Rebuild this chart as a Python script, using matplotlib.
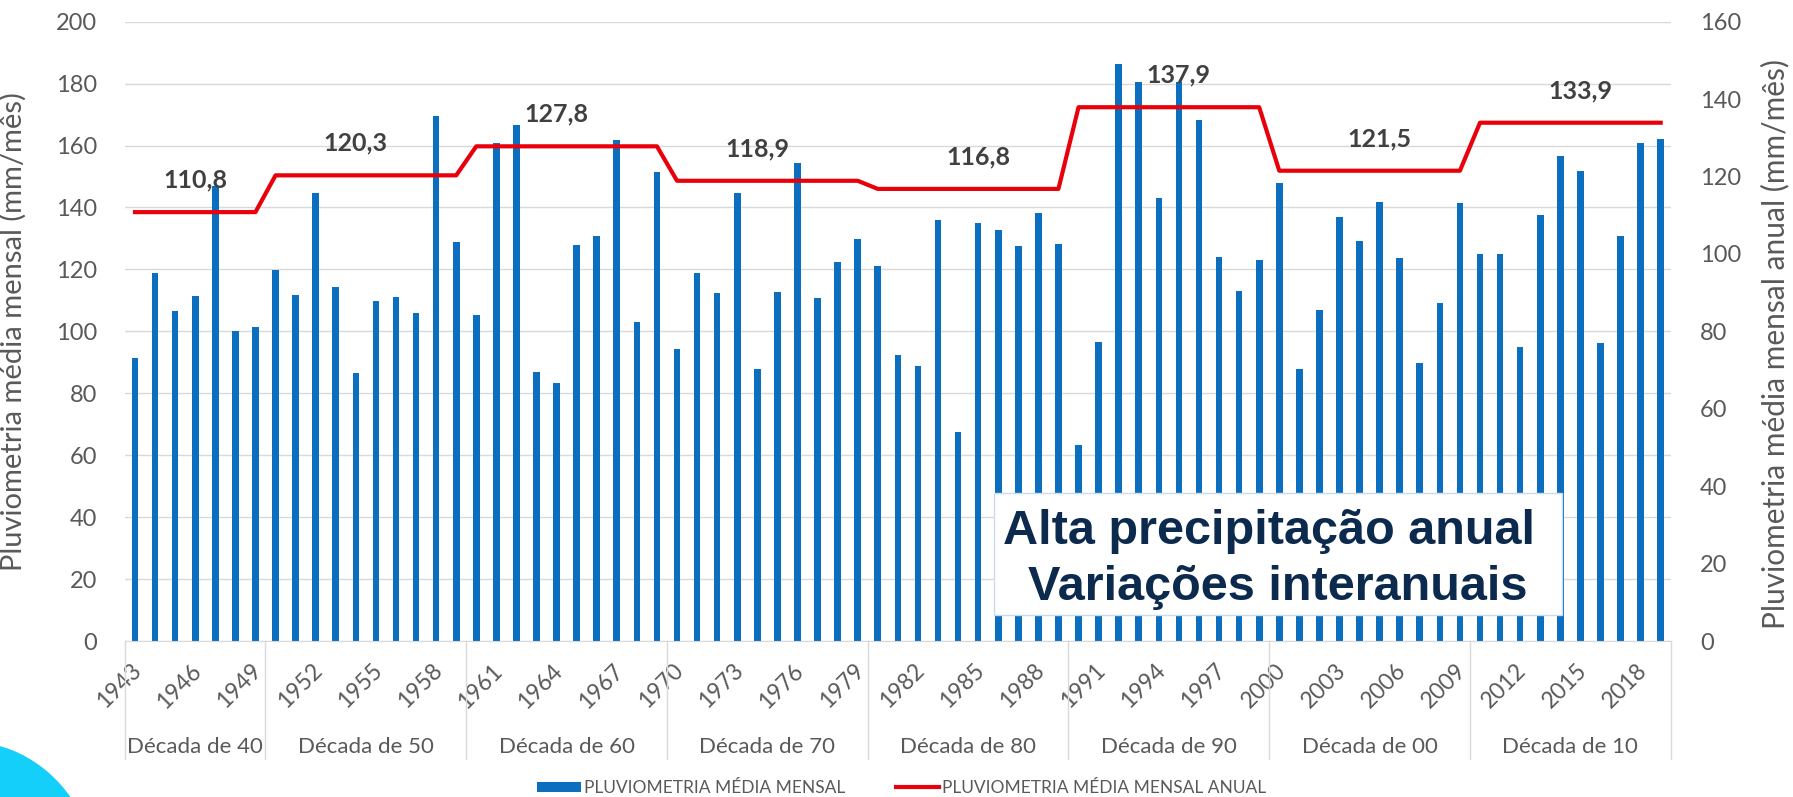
import numpy as np
import matplotlib
matplotlib.use("Agg")
import matplotlib.pyplot as plt
from matplotlib.patches import Rectangle, Ellipse
from matplotlib.transforms import ScaledTranslation

plt.rcParams["font.family"] = ["Lato", "DejaVu Sans"]

BLUE = "#0b6ebf"
RED = "#e8000b"
GRID = "#d9d9d9"
TXT = "#595959"
LABEL = "#404040"
NAVY = "#0c2a4d"

years = list(range(1943, 2020))
monthly = [
    91.5, 118.7, 106.5, 111.3, 146.9, 100.0, 101.3,
    119.8, 111.8, 144.6, 114.2, 86.7, 109.8, 111.2, 105.8, 169.6, 128.8,
    105.4, 160.7, 166.6, 87.0, 83.2, 127.9, 130.9, 161.8, 103.0, 151.3,
    94.2, 118.9, 112.5, 144.6, 87.7, 112.8, 154.4, 110.9, 122.3, 129.9,
    121.1, 92.5, 88.8, 136.1, 67.5, 135.1, 132.7, 127.6, 138.1, 128.2,
    63.2, 96.7, 186.4, 180.6, 143.2, 180.6, 168.2, 124.1, 113.0, 123.0,
    148.0, 87.7, 106.9, 137.0, 129.3, 141.8, 123.8, 89.9, 109.3, 141.6,
    124.9, 124.9, 94.8, 137.5, 156.6, 151.7, 96.3, 130.9, 160.7, 162.0,
]
decade_names = ["Década de 40", "Década de 50", "Década de 60", "Década de 70",
                "Década de 80", "Década de 90", "Década de 00", "Década de 10"]
decade_years = [7, 10, 10, 10, 10, 10, 10, 10]
decade_means = [110.8, 120.3, 127.8, 118.9, 116.8, 137.9, 121.5, 133.9]
label_years = [1946, 1954, 1964, 1974, 1985, 1995, 2005, 2015]
box_lines = ["Alta precipitação anual", "Variações interanuais"]

annual = np.repeat(decade_means, decade_years)

fig = plt.figure(figsize=(17.93, 7.97), dpi=100)
ax = fig.add_axes([0.0697, 0.1957, 0.8621, 0.7771])
ax2 = ax.twinx()

bars = ax.bar(years, monthly, width=0.33, color=BLUE, zorder=2)
ax.set_xlim(1942.5, 2019.5)
ax.set_ylim(0, 200)
ax.set_yticks(range(0, 201, 20))
ax.grid(axis="y", color=GRID, lw=1)
ax.set_axisbelow(True)
for side in ["top", "left", "right"]:
    ax.spines[side].set_visible(False)
ax.spines["bottom"].set_color(GRID)
ax.tick_params(axis="y", length=0, pad=20, labelsize=17, labelcolor=TXT)
ax.tick_params(axis="x", length=0, pad=19, labelsize=16.5, labelcolor=TXT)
ax.set_xticks(years[::3])
ax.set_xticklabels([str(y) for y in years[::3]], rotation=45, ha="right",
                   va="center", rotation_mode="anchor")
shift = ScaledTranslation(3 / 100, 0, fig.dpi_scale_trans)
for lab in ax.get_xticklabels():
    lab.set_transform(lab.get_transform() + shift)
ax.set_ylabel("Pluviometria média mensal (mm/mês)", fontsize=21, color=TXT)
ax.yaxis.set_label_coords(-0.0634, 0.5)

line, = ax2.plot(years, annual, color=RED, lw=3, zorder=3)
ax2.set_ylim(0, 160)
ax2.set_yticks(range(0, 161, 20))
for side in ["top", "left", "right", "bottom"]:
    ax2.spines[side].set_visible(False)
ax2.tick_params(axis="y", length=0, pad=21, labelsize=17, labelcolor=TXT)
ax2.set_ylabel("Pluviometria média mensal anual (mm/mês)", fontsize=21.5,
               color=TXT, rotation=90)
ax2.yaxis.set_label_coords(1.058, 0.48)

for yr, val in zip(label_years, decade_means):
    ax2.annotate(f"{val:.1f}".replace(".", ","), (yr, val), xytext=(0, 23),
                 textcoords="offset points", ha="center", va="center",
                 fontsize=18, fontweight="bold", color=LABEL, zorder=4)

# decade row of the category axis
bounds = 1942.5 + np.concatenate([[0], np.cumsum(decade_years)])
trans = ax.get_xaxis_transform()
for b in bounds:
    ax.plot([b, b], [0, -0.1905], transform=trans, color=GRID, lw=1,
            clip_on=False)
for name, a, b in zip(decade_names, bounds[:-1], bounds[1:]):
    ax.text((a + b) / 2, -0.1804, name, transform=trans, ha="center",
            va="baseline", fontsize=16, color=TXT)

fig.legend([bars, line],
           ["PLUVIOMETRIA MÉDIA MENSAL", "PLUVIOMETRIA MÉDIA MENSAL ANUAL"],
           loc="center", bbox_to_anchor=(0.503, 0.0113), ncol=2, frameon=False,
           fontsize=12.5, handlelength=2.5, handleheight=0.5,
           handletextpad=0.2, columnspacing=2.9, labelcolor=TXT)

# annotation box
fig.add_artist(Rectangle((0.5544, 0.2284), 0.3168, 0.1534,
                         transform=fig.transFigure, facecolor="white",
                         edgecolor="#c9dcee", lw=1, zorder=5))
fig.text(0.7078, 0.3174, box_lines[0], ha="center", va="baseline",
         fontsize=35, fontweight="bold", color=NAVY,
         family="Liberation Sans", zorder=6)
fig.text(0.7128, 0.2472, box_lines[1], ha="center", va="baseline",
         fontsize=35, fontweight="bold", color=NAVY,
         family="Liberation Sans", zorder=6)

# decorative corner shape
fig.add_artist(Ellipse((0.091, -0.208), 1.8, 1.2, angle=-41,
                       transform=fig.dpi_scale_trans, facecolor="#14cff9",
                       edgecolor="none", zorder=1))

fig.savefig("out.png", dpi=100)
